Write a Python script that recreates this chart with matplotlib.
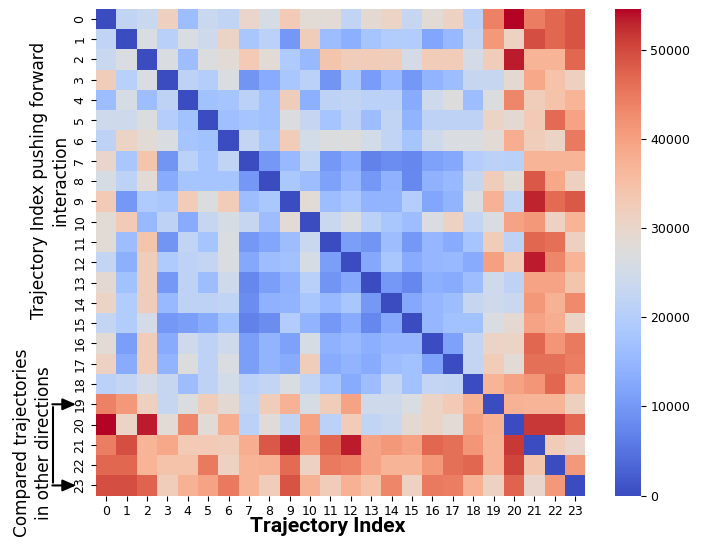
import numpy as np
import matplotlib
matplotlib.use('Agg')
import matplotlib.pyplot as plt
import seaborn as sns

# pairwise distances between trajectories
labels = [str(i) for i in range(24)]
dist = [
    [0, 22000, 23500, 31500, 16000, 23500, 22000, 30000, 26000, 33000, 28500, 28500, 22000, 29000, 30500, 23000, 28500, 31000, 21000, 44000, 54600, 44500, 47000, 49000],
    [22000, 0, 26500, 20500, 26500, 24500, 30500, 18000, 21000, 10000, 32000, 16000, 13500, 17500, 19500, 19500, 12000, 15500, 22500, 41000, 31000, 49500, 47000, 49000],
    [23500, 26500, 0, 26500, 16000, 27000, 28500, 33000, 28500, 19000, 15500, 34000, 32000, 32500, 32000, 25500, 32500, 32500, 25500, 32000, 53500, 37000, 37000, 47000],
    [32000, 20500, 26500, 0, 21500, 20000, 26500, 9500, 13000, 18000, 21000, 9500, 18500, 10500, 15500, 10000, 14500, 16000, 23000, 23000, 29000, 39000, 34500, 31500],
    [16000, 26000, 16000, 21500, 0, 17000, 17500, 21000, 17000, 32000, 13500, 21500, 22000, 21000, 21000, 13000, 24500, 27500, 16000, 27000, 43500, 32000, 34500, 37000],
    [24500, 24500, 27000, 20000, 17000, 0, 16500, 17500, 17000, 27000, 23000, 17500, 21500, 16000, 22000, 14500, 21500, 21500, 21500, 30500, 29000, 33000, 46500, 39500],
    [21500, 30500, 28500, 26500, 17500, 17000, 0, 22500, 18000, 32500, 25000, 27000, 27500, 25000, 22000, 17500, 24500, 26500, 26500, 28500, 38000, 32000, 30500, 45000],
    [30000, 18000, 34000, 9500, 21000, 17500, 22000, 0, 10000, 15500, 22000, 10000, 13000, 7000, 8500, 7500, 11500, 12500, 20000, 21000, 20500, 37000, 37000, 37000],
    [26000, 21500, 28500, 13000, 17500, 17500, 17500, 10000, 0, 18500, 16000, 11500, 15000, 10000, 14000, 7800, 14000, 15500, 23000, 32000, 28500, 48500, 39000, 31500],
    [33000, 10000, 19000, 18000, 32500, 27000, 32500, 16000, 18500, 0, 28500, 16000, 18000, 14500, 14500, 20000, 12000, 14500, 26500, 37500, 22000, 53000, 46500, 48500],
    [28500, 33000, 15500, 21500, 13000, 23000, 26000, 23000, 16000, 28500, 0, 23500, 26500, 21000, 18000, 16000, 26500, 31000, 22500, 26500, 39500, 41000, 31000, 37000],
    [28500, 16000, 34000, 9500, 22000, 17500, 26500, 10000, 12000, 16000, 23500, 0, 11000, 9500, 16000, 10000, 15000, 13000, 17500, 32000, 21500, 47000, 46000, 31500],
    [22500, 13500, 32000, 19000, 21500, 22500, 26500, 12500, 16000, 17000, 26000, 11000, 0, 12500, 18000, 13000, 15000, 15500, 13000, 40000, 33000, 53500, 43500, 37000],
    [29000, 17000, 32000, 10000, 21500, 16000, 24500, 7500, 11000, 14000, 20500, 9500, 12500, 0, 10000, 7500, 13500, 13000, 16000, 24500, 21500, 39500, 39500, 34000],
    [30500, 19500, 32000, 15500, 21500, 21500, 22000, 8500, 14000, 14500, 18000, 15500, 18000, 10000, 0, 12500, 15000, 16000, 23000, 24500, 23500, 41000, 37500, 43000],
    [22500, 19500, 25500, 10000, 11000, 13000, 17000, 7000, 8500, 19500, 14500, 10000, 13000, 7500, 12500, 0, 15000, 17000, 17000, 26500, 29000, 39500, 38000, 30500],
    [28500, 11000, 32500, 13000, 24500, 21500, 24500, 11000, 14500, 11500, 26000, 14000, 15500, 13500, 15000, 15000, 0, 11500, 22500, 30500, 30500, 47000, 41500, 45000],
    [31000, 13000, 32500, 14500, 27500, 21500, 26500, 11000, 14500, 13000, 32000, 13000, 14500, 13000, 16000, 17000, 11500, 0, 22500, 32500, 28500, 46000, 46000, 44500],
    [21000, 22500, 25500, 23000, 16000, 21500, 25000, 21000, 22500, 26500, 22000, 17500, 13000, 16000, 22500, 17000, 22500, 22000, 0, 37000, 39500, 41500, 47000, 37500],
    [44000, 41000, 31500, 23000, 27000, 32000, 29000, 22000, 32000, 37500, 26000, 32000, 39500, 24500, 24500, 26500, 30500, 33000, 37500, 0, 37500, 37000, 37000, 31500],
    [54600, 30500, 53500, 28500, 43500, 28500, 38000, 21000, 28000, 22000, 39500, 21000, 32500, 22000, 23500, 29000, 30500, 28500, 39500, 37500, 0, 51500, 51500, 47000],
    [44500, 49500, 37000, 39000, 33000, 33000, 32000, 38000, 48500, 53000, 41000, 47000, 53500, 39500, 41000, 39500, 47000, 46000, 41500, 37000, 51500, 0, 32500, 30000],
    [47000, 47000, 37000, 34500, 34500, 45000, 31000, 37000, 37500, 46500, 31000, 45000, 44000, 39500, 37000, 37000, 41000, 46000, 47000, 37000, 50500, 34000, 0, 41000],
    [49500, 49500, 47500, 32000, 37500, 39500, 45000, 37000, 32000, 49000, 37500, 32000, 37500, 34500, 43500, 31000, 45000, 44500, 37500, 31000, 47500, 30000, 41000, 0],
]

fig = plt.figure(figsize=(7.01, 5.44), dpi=100)
ax = fig.add_axes([0.137, 0.089, 0.698, 0.895])
cax = fig.add_axes([0.877, 0.089, 0.037, 0.895])

sns.heatmap(np.array(dist), cmap='coolwarm', ax=ax, cbar_ax=cax,
            xticklabels=labels, yticklabels=labels)

ax.tick_params(axis='both', labelsize=9)
plt.setp(ax.get_yticklabels(), rotation=90, va='center')
plt.setp(ax.get_xticklabels(), rotation=0)
cax.tick_params(labelsize=9)

ax.set_xlabel('Trajectory Index', fontsize=15.3, fontweight='bold',
              family=['Roboto', 'DejaVu Sans'], labelpad=1)
ax.xaxis.set_label_coords(0.474, -0.045)

# the two y-axis captions
fig.text(0.071, 0.669, 'Trajectory Index pushing forward\ninteraction',
         rotation=90, ha='center', va='center', fontsize=12.2, linespacing=1.25)
fig.text(0.047, 0.186, 'Compared trajectories\nin other directions',
         rotation=90, ha='center', va='center', fontsize=12.2, linespacing=1.25)

# bracket with arrows pointing at rows 19 and 23
bx = 53 / 701
tx = 76 / 701
coords = ('figure fraction', 'data')
ax.annotate('', xy=(bx, 23.5), xytext=(bx, 19.5), xycoords=coords, textcoords=coords,
            arrowprops=dict(arrowstyle='-', color='black', lw=1.5), annotation_clip=False)
for row in [19.5, 23.5]:
    ax.annotate('', xy=(tx, row), xytext=(bx - 0.001, row), xycoords=coords, textcoords=coords,
                arrowprops=dict(arrowstyle='-|>,head_length=0.8,head_width=0.35', color='black',
                                lw=1.5, shrinkA=0, shrinkB=0), annotation_clip=False)

plt.savefig('out.png', dpi=100)
